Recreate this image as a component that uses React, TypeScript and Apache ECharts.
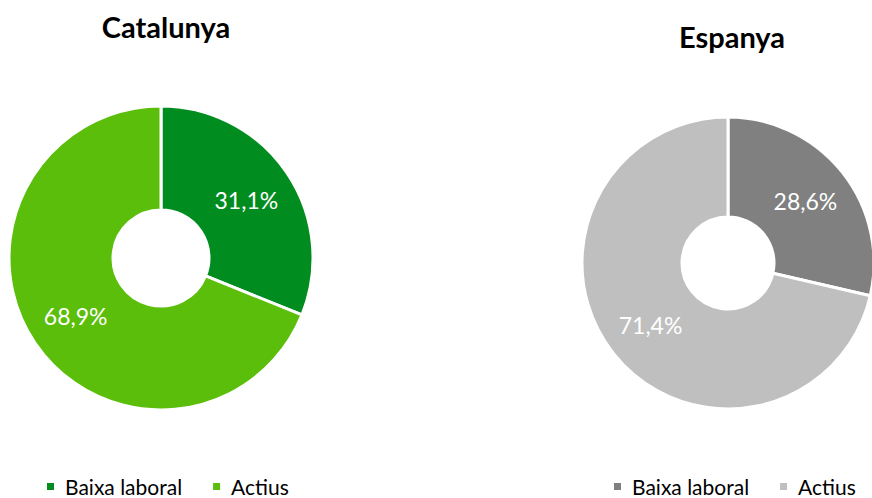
import React, { useEffect, useRef } from "react";
import * as echarts from "echarts";

const categories = ["Baixa laboral", "Actius"];
const catalunyaValues = [31.1, 68.9];
const espanyaValues = [28.6, 71.4];
const catalunyaColors = ["#008C1E", "#5ABE0A"];
const espanyaColors = ["#808080", "#BFBFBF"];
const titles = ["Catalunya", "Espanya"];

const FONT = "Lato, 'Open Sans', sans-serif";

export default function App() {
  const ref = useRef<HTMLDivElement>(null);
  useEffect(() => {
    if (!ref.current) return;
    const chart = echarts.init(ref.current, null, { renderer: "svg" });
    const mk = (values: number[], colors: string[]) =>
      categories.map((name, i) => ({ name, value: values[i], itemStyle: { color: colors[i] } }));
    const labelFmt = (p: any) => p.value.toFixed(1).replace(".", ",") + "%";
    const legendBase = {
      top: 476, padding: 0, width: 300, itemWidth: 9, itemHeight: 9, itemGap: 29, icon: "rect",
      textStyle: { fontFamily: FONT, fontSize: 21, lineHeight: 20, color: "#000", padding: [0, 0, 0, 5] },
    };
    chart.setOption({
      animation: false,
      backgroundColor: "#ffffff",
      title: [
        { text: titles[0], left: 161, top: 7, textAlign: "center", textStyle: { fontFamily: FONT, fontSize: 29, fontWeight: "bold", color: "#000" } },
        { text: titles[1], left: 727, top: 17, textAlign: "center", textStyle: { fontFamily: FONT, fontSize: 29, fontWeight: "bold", color: "#000" } },
      ],
      legend: [
        {
          ...legendBase, left: 45,
          data: categories.map((n, i) => ({ name: n, itemStyle: { color: catalunyaColors[i] } })),
        },
        {
          ...legendBase, left: 612,
          data: categories.map((n, i) => ({ name: n, itemStyle: { color: espanyaColors[i] } })),
        },
      ],
      series: [
        {
          type: "pie", center: [161, 258], radius: [48, 152], startAngle: 90, clockwise: true,
          itemStyle: { borderColor: "#fff", borderWidth: 3 },
          label: { position: "inside", formatter: labelFmt, color: "#fff", fontFamily: FONT, fontSize: 23 },
          labelLine: { show: false }, emphasis: { disabled: true },
          data: mk(catalunyaValues, catalunyaColors),
        },
        {
          type: "pie", center: [728, 263], radius: [46, 146], startAngle: 90, clockwise: true,
          itemStyle: { borderColor: "#fff", borderWidth: 3 },
          label: { position: "inside", formatter: labelFmt, color: "#fff", fontFamily: FONT, fontSize: 23 },
          labelLine: { show: false }, emphasis: { disabled: true },
          data: mk(espanyaValues, espanyaColors),
        },
      ],
    });
    return () => chart.dispose();
  }, []);
  return <div ref={ref} style={{ width: 872, height: 498, position: "absolute", left: 0, top: 0 }} />;
}
